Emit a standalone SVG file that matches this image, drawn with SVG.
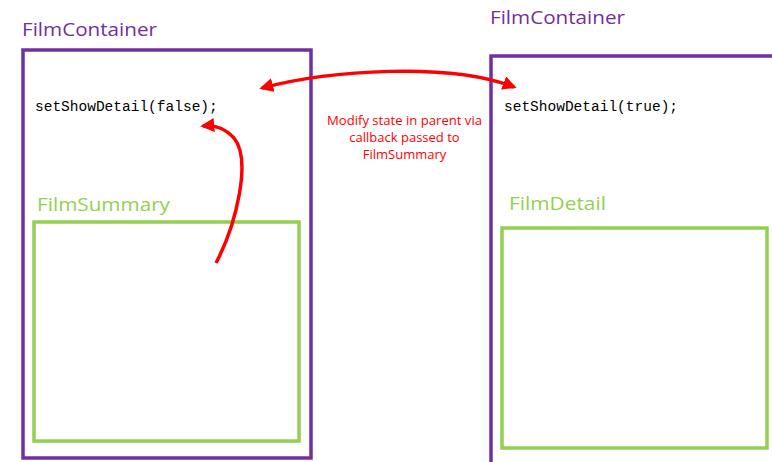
<svg xmlns="http://www.w3.org/2000/svg" width="772" height="462" viewBox="0 0 772 462">
<style>
.container{fill:none;stroke:#7030a0;stroke-width:3.5}
.child{fill:none;stroke:#92d050;stroke-width:3.5}
.title{font-family:"Open Sans","Liberation Sans",sans-serif;font-size:19px;fill:#7030a0}
.ctitle{font-family:"Open Sans","Liberation Sans",sans-serif;font-size:19px;fill:#92d050}
.code{font-family:"Liberation Mono",monospace;font-size:14.5px;fill:#000}
.note{font-family:"Open Sans","Liberation Sans",sans-serif;font-size:13px;fill:#ff0000;text-anchor:middle}
.arrow{fill:none;stroke:#ff0000;stroke-width:3.5}
</style>
<defs>
<marker id="ah" viewBox="0 0 10 10" refX="8" refY="5" markerWidth="4" markerHeight="4" orient="auto-start-reverse" markerUnits="strokeWidth">
<path d="M0,0 L10,5 L0,10 z" fill="#ff0000"/>
</marker>
</defs>
<g id="left-container">
<rect class="container" x="23" y="50" width="288" height="408"/>
<text class="title" x="22" y="36" textLength="135" lengthAdjust="spacingAndGlyphs">FilmContainer</text>
<text class="code" x="35" y="111">setShowDetail(false);</text>
</g>
<g id="film-summary">
<rect class="child" x="34" y="222" width="265" height="219"/>
<text class="ctitle" x="37" y="211" textLength="133" lengthAdjust="spacingAndGlyphs">FilmSummary</text>
</g>
<g id="right-container">
<rect class="container" x="491" y="56" width="300" height="420"/>
<text class="title" x="490" y="24" textLength="135" lengthAdjust="spacingAndGlyphs">FilmContainer</text>
<text class="code" x="504" y="111">setShowDetail(true);</text>
</g>
<g id="film-detail">
<rect class="child" x="502" y="228" width="265" height="220"/>
<text class="ctitle" x="509" y="210" textLength="97" lengthAdjust="spacingAndGlyphs">FilmDetail</text>
</g>
<g id="connectors">
<path class="arrow" d="M262,88 C330,70 450,62 514,87" marker-start="url(#ah)" marker-end="url(#ah)"/>
<path class="arrow" d="M216,263 C236,225 252,160 234,138 C224,127 214,125 203,126" marker-end="url(#ah)"/>
</g>
<g id="note">
<text class="note" x="404.5" y="125" textLength="155" lengthAdjust="spacingAndGlyphs">Modify state in parent via</text>
<text class="note" x="404.5" y="142">callback passed to</text>
<text class="note" x="404.5" y="159">FilmSummary</text>
</g>
</svg>
